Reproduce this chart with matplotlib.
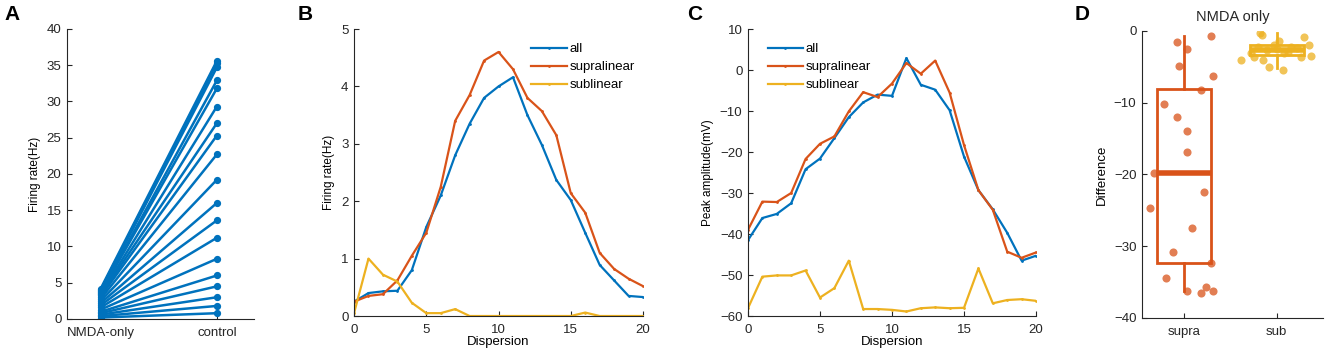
import numpy as np
import matplotlib.pyplot as plt

plt.rcParams['font.family'] = ['Liberation Sans', 'DejaVu Sans']
plt.rcParams['axes.linewidth'] = 0.8
plt.rcParams['xtick.direction'] = 'in'
plt.rcParams['ytick.direction'] = 'in'

BLUE = '#0072BD'
RED = '#D95319'
YELLOW = '#EDB120'
AXC = '#262626'

# ---- panel A: paired firing rates
a_labels = ['NMDA-only', 'control']
a_nmda = [4.2, 4.0, 3.9, 3.7, 3.6, 3.4, 3.3, 3.1, 2.8, 2.5, 2.2, 1.9, 1.6, 1.3, 1.0, 0.8, 0.6, 0.4, 0.2]
a_control = [35.6, 35.3, 34.7, 32.9, 31.8, 29.3, 27.0, 25.3, 22.7, 19.2, 16.0, 13.6, 11.2, 8.3, 6.0, 4.5, 3.0, 1.8, 0.8]

# ---- panel B: firing rate vs dispersion
dispersion = np.arange(0, 21)
b_all = [0.25, 0.40, 0.43, 0.44, 0.80, 1.55, 2.10, 2.80, 3.35, 3.80, 4.00, 4.16, 3.50, 2.98, 2.37, 2.02, 1.45, 0.89, 0.62, 0.35, 0.33]
b_supra = [0.25, 0.35, 0.38, 0.62, 1.05, 1.45, 2.25, 3.40, 3.85, 4.45, 4.60, 4.30, 3.80, 3.57, 3.15, 2.14, 1.80, 1.10, 0.82, 0.65, 0.52]
b_sub = [0.05, 1.00, 0.72, 0.60, 0.23, 0.05, 0.05, 0.12, 0.0, 0.0, 0.0, 0.0, 0.0, 0.0, 0.0, 0.0, 0.06, 0.0, 0.0, 0.0, 0.0]

# ---- panel C: peak amplitude vs dispersion
c_all = [-41.5, -36.1, -35.1, -32.5, -24.2, -21.6, -16.6, -11.5, -7.9, -6.0, -6.3, 2.9, -3.6, -4.8, -9.8, -21.1, -29.3, -34.0, -39.7, -46.5, -45.3]
c_supra = [-39.0, -32.1, -32.2, -30.0, -21.7, -18.0, -16.2, -10.1, -5.4, -6.6, -3.3, 1.7, -0.9, 2.3, -5.5, -18.3, -29.3, -34.1, -44.3, -45.8, -44.5]
c_sub = [-58.1, -50.4, -50.1, -50.1, -48.9, -55.5, -53.2, -46.5, -58.3, -58.3, -58.5, -58.9, -58.1, -57.9, -58.1, -58.0, -48.4, -56.9, -56.1, -55.9, -56.3]

# ---- panel D: difference, box stats + jittered points
d_labels = ['supra', 'sub']
d_q1 = [-32.3, -3.4]
d_med = [-19.8, -2.6]
d_q3 = [-8.15, -1.9]
d_lo = [-36.3, -5.2]
d_hi = [-0.75, -0.3]
supra_x = [0.925, 1.03, 1.29, 0.95, 1.32, 1.19, 0.79, 0.925, 1.03, 1.03, 0.68, 1.215, 0.64, 1.086, 0.88, 1.29, 0.81, 1.03, 1.19, 1.24, 1.32]
supra_y = [-1.5, -2.5, -0.7, -4.9, -6.3, -8.2, -10.2, -12.0, -13.9, -16.9, -19.8, -22.5, -24.7, -27.5, -30.8, -32.3, -34.4, -36.2, -36.5, -35.7, -36.2]
sub_x = [1.82, 1.84, 2.03, 2.29, 2.35, 1.62, 1.76, 1.85, 1.92, 2.07, 2.26, 2.37, 2.00, 1.90, 2.15, 2.08, 1.72, 2.22, 1.97, 2.12, 1.80]
sub_y = [-0.3, -0.55, -1.35, -0.9, -1.95, -4.0, -3.6, -4.1, -5.0, -5.4, -3.6, -3.5, -2.5, -2.7, -2.2, -3.1, -3.0, -2.4, -1.9, -2.9, -2.2]

fig = plt.figure(figsize=(13.25, 3.6), dpi=100)
axA = fig.add_axes([0.0506, 0.1139, 0.1411, 0.8056])
axB = fig.add_axes([0.2672, 0.1222, 0.2181, 0.7972])
axC = fig.add_axes([0.5645, 0.1222, 0.2174, 0.7972])
axD = fig.add_axes([0.8619, 0.1167, 0.1366, 0.7972])

for ax in (axA, axB, axC, axD):
    for s in ('top', 'right'):
        ax.spines[s].set_visible(False)
    for s in ('left', 'bottom'):
        ax.spines[s].set_color(AXC)
    ax.tick_params(labelsize=9.5, colors=AXC, length=3.5, width=0.8)
    ax.tick_params(axis='x', pad=6)
    ax.tick_params(axis='y', pad=4)

# A
for n, c in zip(a_nmda, a_control):
    axA.plot([1, 2], [n, c], color=BLUE, lw=1.8, marker='o', ms=4.2, mec=BLUE, mfc=BLUE)
axA.set_xlim(0.71, 2.32)
axA.set_ylim(0, 40)
axA.set_xticks([1, 2])
axA.set_xticklabels(a_labels)
axA.set_yticks(range(0, 41, 5))
axA.set_ylabel('Firing rate(Hz)', fontsize=8.5)

# B
axB.plot(dispersion, b_all, color=BLUE, lw=1.6, marker='.', ms=2, label='all')
axB.plot(dispersion, b_supra, color=RED, lw=1.6, marker='.', ms=2, label='supralinear')
axB.plot(dispersion, b_sub, color=YELLOW, lw=1.6, marker='.', ms=2, label='sublinear')
axB.set_xlim(0, 20)
axB.set_ylim(0, 5)
axB.set_xticks([0, 5, 10, 15, 20])
axB.set_yticks(range(0, 6))
axB.set_xlabel('Dispersion', fontsize=9.5, labelpad=0)
axB.set_ylabel('Firing rate(Hz)', fontsize=8.5)
axB.legend(loc='upper left', bbox_to_anchor=(0.595, 0.97), frameon=False, fontsize=9.5,
           handlelength=2.7, handletextpad=0.2, labelspacing=0.45, borderaxespad=0)

# C
axC.plot(dispersion, c_all, color=BLUE, lw=1.6, marker='.', ms=2, label='all')
axC.plot(dispersion, c_supra, color=RED, lw=1.6, marker='.', ms=2, label='supralinear')
axC.plot(dispersion, c_sub, color=YELLOW, lw=1.6, marker='.', ms=2, label='sublinear')
axC.set_xlim(0, 20)
axC.set_ylim(-60, 10)
axC.set_xticks([0, 5, 10, 15, 20])
axC.set_yticks(range(-60, 11, 10))
axC.set_xlabel('Dispersion', fontsize=9.5, labelpad=0)
axC.set_ylabel('Peak amplitude(mV)', fontsize=8.5)
axC.legend(loc='upper left', bbox_to_anchor=(0.05, 0.97), frameon=False, fontsize=9.5,
           handlelength=2.7, handletextpad=0.2, labelspacing=0.45, borderaxespad=0)

# D
colors = [RED, YELLOW]
stats = []
for i in range(2):
    stats.append({'med': d_med[i], 'q1': d_q1[i], 'q3': d_q3[i],
                  'whislo': d_lo[i], 'whishi': d_hi[i], 'fliers': []})
for i, st in enumerate(stats):
    axD.bxp([st], positions=[i + 1], widths=0.58, showcaps=False, showfliers=False,
            patch_artist=True,
            boxprops=dict(facecolor='none', edgecolor=colors[i], lw=2),
            whiskerprops=dict(color=colors[i], lw=2),
            medianprops=dict(color=colors[i], lw=4, solid_capstyle='butt'))
axD.scatter(supra_x, supra_y, s=34, color=RED, alpha=0.75, lw=0, zorder=3)
axD.scatter(sub_x, sub_y, s=34, color=YELLOW, alpha=0.75, lw=0, zorder=3)
axD.set_xlim(0.55, 2.5)
axD.set_ylim(-40, 0)
axD.set_xticks([1, 2])
axD.set_xticklabels(d_labels)
axD.set_yticks(range(-40, 1, 10))
axD.set_ylabel('Difference', fontsize=9.5)
axD.set_title('NMDA only', fontsize=10.5, pad=7, color=AXC)

# panel letters
for x, lab in zip([12, 305, 695, 1082], ['A', 'B', 'C', 'D']):
    fig.text(x / 1325, 1 - 14 / 360, lab, fontsize=15, fontweight='bold', ha='center', va='center')

fig.savefig('out.png', dpi=100)
